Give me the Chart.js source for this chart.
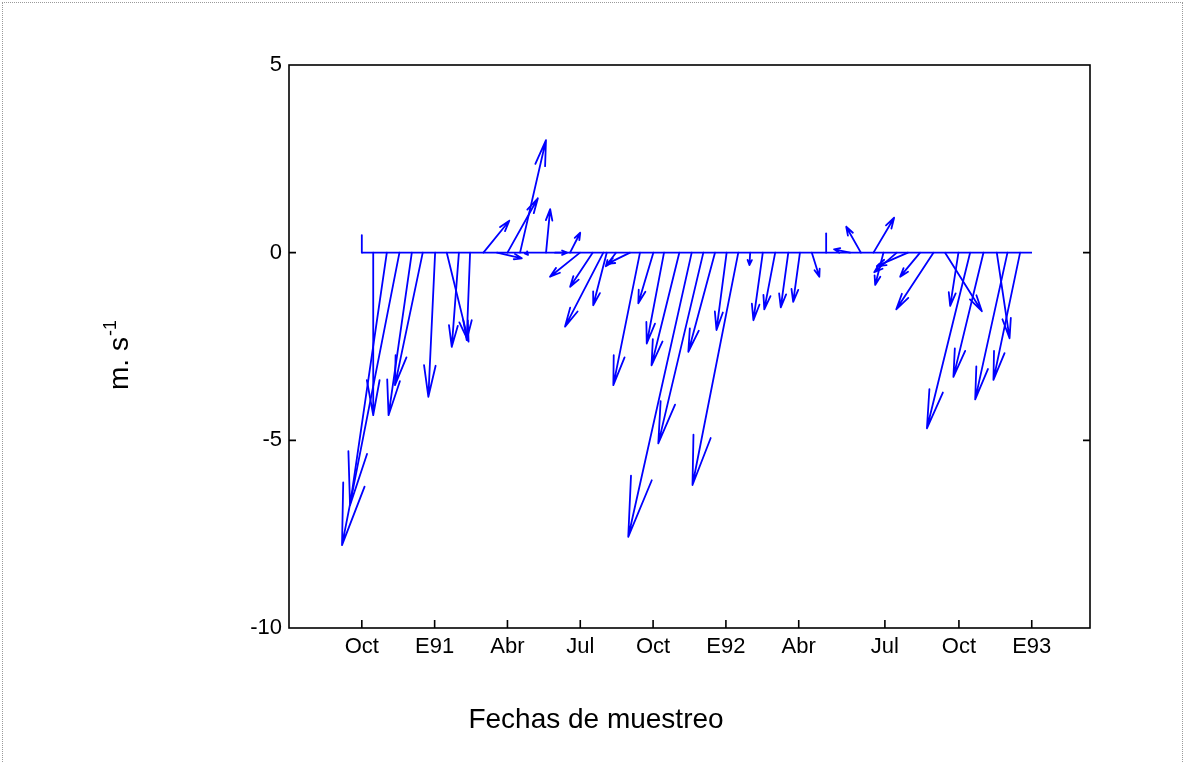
<!DOCTYPE html>
<html>
<head>
<meta charset="utf-8">
<script src="https://cdn.jsdelivr.net/npm/chart.js@4.4.1/dist/chart.umd.min.js"></script>
<style>
    html, body { margin: 0; padding: 0; background: #fff; overflow: hidden; }
    #frame { position: absolute; left: 2px; top: 2px; width: 1181px; height: 800px; border: 1px dotted #9a9a9a; box-sizing: border-box; }
    #wrap { position: absolute; left: 0; top: 0; width: 1185px; height: 762px; }
</style>
</head>
<body>
<div id="frame"></div>
<div id="wrap"><canvas id="windChart" width="1185" height="762"></canvas></div>
<script>
// ────────────────────────────────────────
// Datos: vectores de viento (m/s), fecha en meses desde Oct 1990
// ────────────────────────────────────────
const months = [0.47, 1.03, 1.55, 2.06, 2.51, 3.02, 3.50, 4.00, 4.46, 5.01, 5.57, 6.00, 6.52, 6.77,
    7.59, 7.96, 8.58, 8.99, 9.51, 9.95, 10.09, 10.47, 11.05, 11.46, 12.01, 12.45, 13.08, 13.59,
    14.07, 14.55, 15.03, 15.51, 16.00, 16.52, 17.03, 17.57, 18.05, 18.54, 20.12, 20.56, 21.08,
    21.49, 22.04, 22.50, 23.00, 23.55, 24.03, 24.58, 25.06, 25.61, 26.16, 26.60, 27.12, 27.61];

const uWind = [0, -0.98, -1.53, -0.62, -0.74, -0.18, 0.58, -0.19, -0.09, 0.69, 0.66, 0.81, 0.69, 0.05,
    0.11, 0.32, 0.27, -0.8, -0.6, -1.02, -0.36, -0.27, -0.61, -0.71, -0.4, -0.46, -0.74, -1.69,
    -1.2, -0.71, -0.27, -1.22, -0.02, -0.25, -0.29, -0.2, -0.18, 0.2, -0.43, -0.39, 0.55,
    -0.22, -0.6, -0.83, -0.53, -0.99, 0.98, -0.22, -1.15, -0.8, 0.34, -0.86, -0.71, 0];

const vWind = [-4.33, -6.73, -7.79, -4.33, -3.53, -3.84, -2.37, -2.51, -2.33, 0.85, -0.15, 1.45, 3.0, -0.06,
    1.16, 0, 0.53, -0.64, -0.91, -1.97, -1.4, -0.36, -0.3, -3.53, -1.35, -2.42, -3.0, -7.57,
    -5.08, -2.64, -2.06, -6.19, -0.33, -1.8, -1.51, -1.46, -1.31, -0.64, 0.09, 0.69, 0.93,
    -0.86, -0.52, -0.36, -0.64, -1.51, -1.56, -1.42, -4.68, -3.31, -2.28, -3.91, -3.39, 0];

// marcas verticales sin punta
const stickMonths = [0, 19.13];
const stickHeights = [0.47, 0.51];

const tickMonths = [0, 3, 6, 9, 12, 15, 18, 21.55, 24.6, 27.6];
const tickLabels = ['Oct', 'E91', 'Abr', 'Jul', 'Oct', 'E92', 'Abr', 'Jul', 'Oct', 'E93'];
const yTicks = [-10, -5, 0, 5];

const FONT = '"Liberation Sans", Arial, sans-serif';
const BLUE = '#0000ff';

const baseline = stickMonths.concat(months).sort((a, b) => a - b).map(m => ({ x: m, y: 0 }));

// cuadro de ejes + marcas interiores + titulos
const frame = {
    id: 'frame',
    beforeDatasetsDraw(chart) {
        const { ctx, chartArea: a, scales: { x, y } } = chart;
        ctx.save();
        ctx.strokeStyle = '#000';
        ctx.lineWidth = 1.6;
        ctx.strokeRect(a.left, a.top, a.right - a.left, a.bottom - a.top);
        ctx.beginPath();
        [-5, 0].forEach(v => {
            const py = y.getPixelForValue(v);
            ctx.moveTo(a.left, py); ctx.lineTo(a.left + 7, py);
            ctx.moveTo(a.right, py); ctx.lineTo(a.right - 7, py);
        });
        tickMonths.forEach(m => {
            const px = x.getPixelForValue(m);
            ctx.moveTo(px, a.bottom); ctx.lineTo(px, a.bottom - 8);
        });
        ctx.stroke();

        ctx.fillStyle = '#000';
        ctx.font = '28px ' + FONT;
        ctx.textAlign = 'center';
        ctx.textBaseline = 'alphabetic';
        ctx.fillText('Fechas de muestreo', 596, 728);

        ctx.translate(128, 390);
        ctx.rotate(-Math.PI / 2);
        ctx.textAlign = 'left';
        ctx.fillText('m. s', 0, 0);
        const w = ctx.measureText('m. s').width;
        ctx.font = '18px ' + FONT;
        ctx.fillText('-1', w + 1, -12);
        ctx.restore();
    }
};

// flechas: la componente u usa la misma escala que el eje y
const windArrows = {
    id: 'windArrows',
    afterDatasetsDraw(chart) {
        const { ctx, scales: { x, y } } = chart;
        const y0 = y.getPixelForValue(0);
        const unit = y0 - y.getPixelForValue(1);
        ctx.save();
        ctx.strokeStyle = BLUE;
        ctx.lineWidth = 1.8;
        ctx.lineCap = 'round';
        ctx.lineJoin = 'round';

        stickMonths.forEach((m, i) => {
            const bx = x.getPixelForValue(m);
            ctx.beginPath();
            ctx.moveTo(bx, y0);
            ctx.lineTo(bx, y.getPixelForValue(stickHeights[i]));
            ctx.stroke();
        });

        months.forEach((m, i) => {
            const bx = x.getPixelForValue(m);
            const tx = bx + uWind[i] * unit;
            const ty = y.getPixelForValue(vWind[i]);
            const dx = tx - bx, dy = ty - y0;
            const len = Math.hypot(dx, dy);
            if (len < 1) return;
            const ang = Math.atan2(dy, dx);
            const head = 0.2 * len + 3;
            const spread = (10 + 18 * Math.exp(-len / 40)) * Math.PI / 180;
            ctx.beginPath();
            ctx.moveTo(bx, y0);
            ctx.lineTo(tx, ty);
            ctx.moveTo(tx - head * Math.cos(ang - spread), ty - head * Math.sin(ang - spread));
            ctx.lineTo(tx, ty);
            ctx.lineTo(tx - head * Math.cos(ang + spread), ty - head * Math.sin(ang + spread));
            ctx.stroke();
        });
        ctx.restore();
    }
};

new Chart(document.getElementById('windChart'), {
    type: 'scatter',
    data: {
        datasets: [{
            type: 'line',
            data: baseline,
            borderColor: BLUE,
            borderWidth: 1.8,
            pointRadius: 0,
            tension: 0,
            fill: false,
        }],
    },
    options: {
        responsive: false,
        animation: false,
        events: [],
        layout: { padding: { left: 0, right: 95, top: 65, bottom: 0 } },
        plugins: {
            legend: { display: false },
            tooltip: { enabled: false },
        },
        scales: {
            x: {
                type: 'linear',
                min: -3,
                max: 30,
                afterFit(s) { s.height = 134; },
                afterBuildTicks(s) { s.ticks = tickMonths.map(v => ({ value: v })); },
                ticks: {
                    callback: (v, i) => tickLabels[i],
                    font: { family: FONT, size: 22 },
                    color: '#000',
                    padding: 6,
                    maxRotation: 0,
                    autoSkip: false,
                },
                grid: { display: false, drawTicks: false },
                border: { display: false },
            },
            y: {
                type: 'linear',
                min: -10,
                max: 5,
                afterFit(s) { s.width = 289; },
                afterBuildTicks(s) { s.ticks = yTicks.map(v => ({ value: v })); },
                ticks: {
                    font: { family: FONT, size: 22 },
                    color: '#000',
                    padding: 7,
                },
                grid: { display: false, drawTicks: false },
                border: { display: false },
            },
        },
    },
    plugins: [frame, windArrows],
});
</script>
</body>
</html>
